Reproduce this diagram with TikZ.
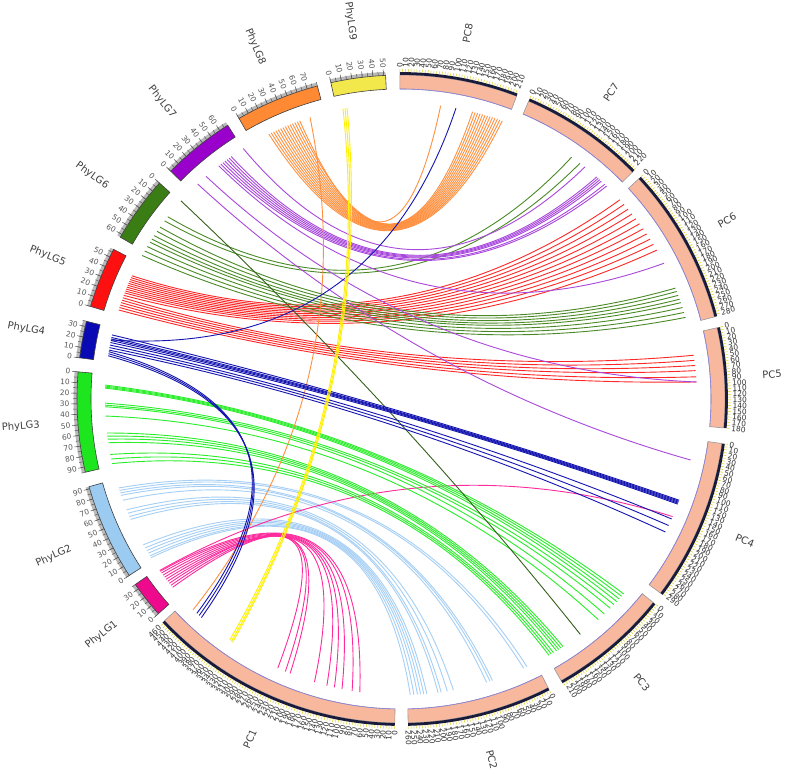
\documentclass[tikz,border=0pt]{standalone}
\usepackage{fontspec}
\setmainfont{DejaVu Sans}
\usetikzlibrary{calc}
\definecolor{pcfill}{HTML}{F8B89E}
\definecolor{pcviolet}{HTML}{8C80E0}
\definecolor{pcrimc}{HTML}{1A1A3A}
\definecolor{lg1}{HTML}{EE0A8C}
\definecolor{lg2}{HTML}{9CCBF2}
\definecolor{lg3}{HTML}{1EE61E}
\definecolor{lg4}{HTML}{0A0AB4}
\definecolor{lg5}{HTML}{FF1010}
\definecolor{lg6}{HTML}{3A7D14}
\definecolor{lg7}{HTML}{9900CC}
\definecolor{lg8}{HTML}{FF8A33}
\definecolor{lg9}{HTML}{F2E84B}
\definecolor{l1}{HTML}{FF2A9C}
\definecolor{l2}{HTML}{A6CFF5}
\definecolor{l3}{HTML}{2AEE2A}
\definecolor{l4}{HTML}{1414B0}
\definecolor{l5}{HTML}{FF2828}
\definecolor{l6}{HTML}{4A8A26}
\definecolor{l7}{HTML}{A848DC}
\definecolor{l8}{HTML}{FF9040}
\definecolor{l9}{HTML}{FFF000}
% radii and scales
\newcommand\rIn{310pt}
\newcommand\rOut{324pt}
\newcommand\rRim{325.5pt}
\newcommand\rTickA{327pt}
\newcommand\rTickB{330pt}
\newcommand\rTickC{328pt}
\newcommand\rNum{331pt}
\newcommand\rName{362pt}
\newcommand\rLink{296pt}
\newcommand\pcK{0.099}
\newcommand\lgK{0.188}
% PC ideogram: name, zero angle, length, last label, label turn, label anchor
\newcommand\pcband[6]{%
  \pgfmathsetmacro\aEnd{#2-#3*\pcK}
  \filldraw[pcband] (#2:\rIn) arc[start angle=#2,end angle=\aEnd,radius=\rIn]
    -- (\aEnd:\rOut) arc[start angle=\aEnd,end angle=#2,radius=\rOut] -- cycle;
  \draw[pcedge] (#2:\rIn) arc[start angle=#2,end angle=\aEnd,radius=\rIn];
  \draw[pcrim] (#2:\rRim) arc[start angle=#2,end angle=\aEnd,radius=\rRim];
  \foreach \v in {0,5,...,#3}{
    \pgfmathsetmacro\ang{#2-\v*\pcK}
    \draw[pctick] (\ang:\rTickA) -- (\ang:\rTickB);}
  \foreach \v in {0,10,...,#4}{
    \pgfmathsetmacro\ang{#2-\v*\pcK}
    \node[pcnum,rotate=\ang+#5,anchor=#6] (#1-\v) at (\ang:\rNum) {\v};}
  \pgfmathsetmacro\aMid{#2-#3*\pcK/2}
  \node[chrname,rotate=\aMid+#5,anchor=#6] (#1) at (\aMid:\rName) {#1};}
% PhyLG ideogram: name, colour, zero angle, direction, length, last label
\newcommand\lgband[6]{%
  \pgfmathsetmacro\aEnd{#3+#4*#5*\lgK}
  \draw[lgshade] (#3:\rRim) arc[start angle=#3,end angle=\aEnd,radius=\rRim];
  \filldraw[lgband,fill=#2] (#3:\rIn) arc[start angle=#3,end angle=\aEnd,radius=\rIn]
    -- (\aEnd:\rOut) arc[start angle=\aEnd,end angle=#3,radius=\rOut] -- cycle;
  \foreach \v in {0,5,...,#5}{
    \pgfmathsetmacro\ang{#3+#4*\v*\lgK}
    \draw[lgtick] (\ang:\rOut) -- (\ang:\rTickC);}
  \foreach \v in {0,10,...,#6}{
    \pgfmathsetmacro\ang{#3+#4*\v*\lgK}
    \draw[lgtick] (\ang:\rOut) -- (\ang:\rTickB);
    \node[lgnum,rotate=\ang+180,anchor=east] (#1-\v) at (\ang:\rNum) {\v};}
  \pgfmathsetmacro\aMid{#3+#4*#5*\lgK/2}
  \node[chrname,rotate=\aMid+180,anchor=east] (#1) at (\aMid:\rName) {#1};}
% link: colour, angle a, angle b
\newcommand\chord[3]{%
  \coordinate (la) at (#2:\rLink);
  \coordinate (lb) at (#3:\rLink);
  \draw[link,#1] (la) .. controls ($0.4133*(la)+0.08*(lb)$) and ($0.08*(la)+0.4133*(lb)$) .. (lb);}

\begin{document}
\begin{tikzpicture}[x=1pt,y=1pt,
    lgband/.style={draw=black!75,line width=0.6pt},
    lgshade/.style={draw=gray!55,line width=4pt},
    lgtick/.style={draw=gray!70!black,line width=0.5pt},
    lgnum/.style={font=\fontsize{7.5}{8}\selectfont,text=black!65,inner sep=0.5pt},
    pcband/.style={draw=gray!80,fill=pcfill,line width=0.6pt},
    pcedge/.style={draw=pcviolet,line width=0.6pt},
    pcrim/.style={draw=pcrimc,line width=2.8pt},
    pctick/.style={draw=yellow!85!black,line width=0.5pt},
    pcnum/.style={font=\fontsize{7.5}{8}\selectfont,text=black!80,inner sep=0.5pt},
    chrname/.style={font=\fontsize{10}{12}\selectfont,text=black!75,inner sep=0pt},
    link/.style={line width=0.9pt}
  ]
  \fill[white] (-401,-374) rectangle (385,399);
  \useasboundingbox (-401,-374) rectangle (385,399);

  % ideograms
  \pcband{PC8}{90.2}{213}{210}{0}{west}
  \pcband{PC7}{66.8}{226}{220}{0}{west}
  \pcband{PC6}{42.8}{284}{280}{0}{west}
  \pcband{PC5}{12.7}{180}{180}{0}{west}
  \pcband{PC4}{-7.9}{292}{290}{0}{west}
  \pcband{PC3}{-38.9}{217}{210}{0}{west}
  \pcband{PC2}{-63}{260}{260}{0}{west}
  \pcband{PC1}{-91.1}{462}{460}{180}{east}
  \lgband{PhyLG1}{lg1}{221.5}{-1}{35}{30}
  \lgband{PhyLG2}{lg2}{213}{-1}{92}{90}
  \lgband{PhyLG3}{lg3}{175.2}{1}{95}{90}
  \lgband{PhyLG4}{lg4}{172.7}{-1}{35}{30}
  \lgband{PhyLG5}{lg5}{163.4}{-1}{58}{50}
  \lgband{PhyLG6}{lg6}{138.2}{1}{63}{60}
  \lgband{PhyLG7}{lg7}{135.3}{-1}{69}{60}
  \lgband{PhyLG8}{lg8}{120}{-1}{80}{70}
  \lgband{PhyLG9}{lg9}{102.5}{-1}{52}{50}

  % PhyLG2 - PC2
  \foreach \a/\b in {197.5/-64.8,198/-65.5,198.5/-72,199/-72.5,200/-73.2,202/-79.8,202.7/-81,
      203.4/-82.2,204/-82.8,209.5/-85,210.2/-85.6,210.8/-86.2,211.4/-86.8,212/-87.5,212.4/-88.2}
    {\chord{l2}{\a}{\b}}
  % PhyLG1 - PC1, PC4
  \foreach \a/\b in {215.6/262,216/260.5,216.5/258.5,217/257,217.5/255.5,218/253,218.5/248,
      219/247,219.5/245.4,215.4/-23.4}
    {\chord{l1}{\a}{\b}}
  % PhyLG3 - PC3
  \foreach \a/\b in {177.3/-41.2,177.5/-41.8,177.7/-42.5,177.9/-43.2,180.8/-44,181.2/-45,181.5/-46.6,
      183.3/-48.2,186.6/-56.8,187.2/-57.3,187.8/-57.8,188.5/-58.3,190.8/-59,191.7/-59.5,192.6/-60}
    {\chord{l3}{\a}{\b}}
  % PhyLG5 - PC6, PC5
  \foreach \a/\b in {155.4/42.3,155.8/41.1,156.2/39.9,156.6/38.7,157/37.5,157.4/36.3,157.8/35.1,
      158.2/33.9,158.6/32.7,159/31.5,159.5/30.2,160/8.5,160.5/7.5,161/6.5,161.5/5.5,162/4.3,162.5/3.3}
    {\chord{l5}{\a}{\b}}
  % PhyLG6 - PC7, PC6, PC3
  \foreach \a/\b in {142/54.8,143/52.8,144.5/22,145.5/21.3,146.5/20.5,147.3/19.7,148/19,149/18,
      150/17,151/16}
    {\chord{l6}{\a}{\b}}
  \chord{l6!70!black}{138}{-52.7}
  % PhyLG7 - PC7, PC6, PC5, PC4
  \foreach \a/\b in {122.2/51.6,125/48.6,125.5/48.2,126/47.8,126.5/47.4,127/46.5,127.5/46,
      128/27.3,131.2/3.3,133.4/-11.9}
    {\chord{l7}{\a}{\b}}
  % PhyLG8 - PC8, PC1
  \foreach \i in {0,...,12}
    {\chord{l8}{110.5+0.5*\i}{76-0.5*\i}}
  \chord{l8}{110}{82.3}
  \chord{l8}{107.9}{225.4}
  % PhyLG4 - PC4, PC1, PC8
  \foreach \a/\b in {167.5/-20,168/-20.2,168.3/-20.4,168.6/-20.6,169/-20.8,169.5/-23.9,170/-25.3,
      170.5/-26.7,170.8/226.4,171.2/227,171.6/227.6,168.5/79.3}
    {\chord{l4}{\a}{\b}}
  % PhyLG9 - PC1
  \foreach \a/\b in {100.5/235.3,100.9/235,101.3/234.6}
    {\chord{l9}{\a}{\b}}
\end{tikzpicture}
\end{document}
